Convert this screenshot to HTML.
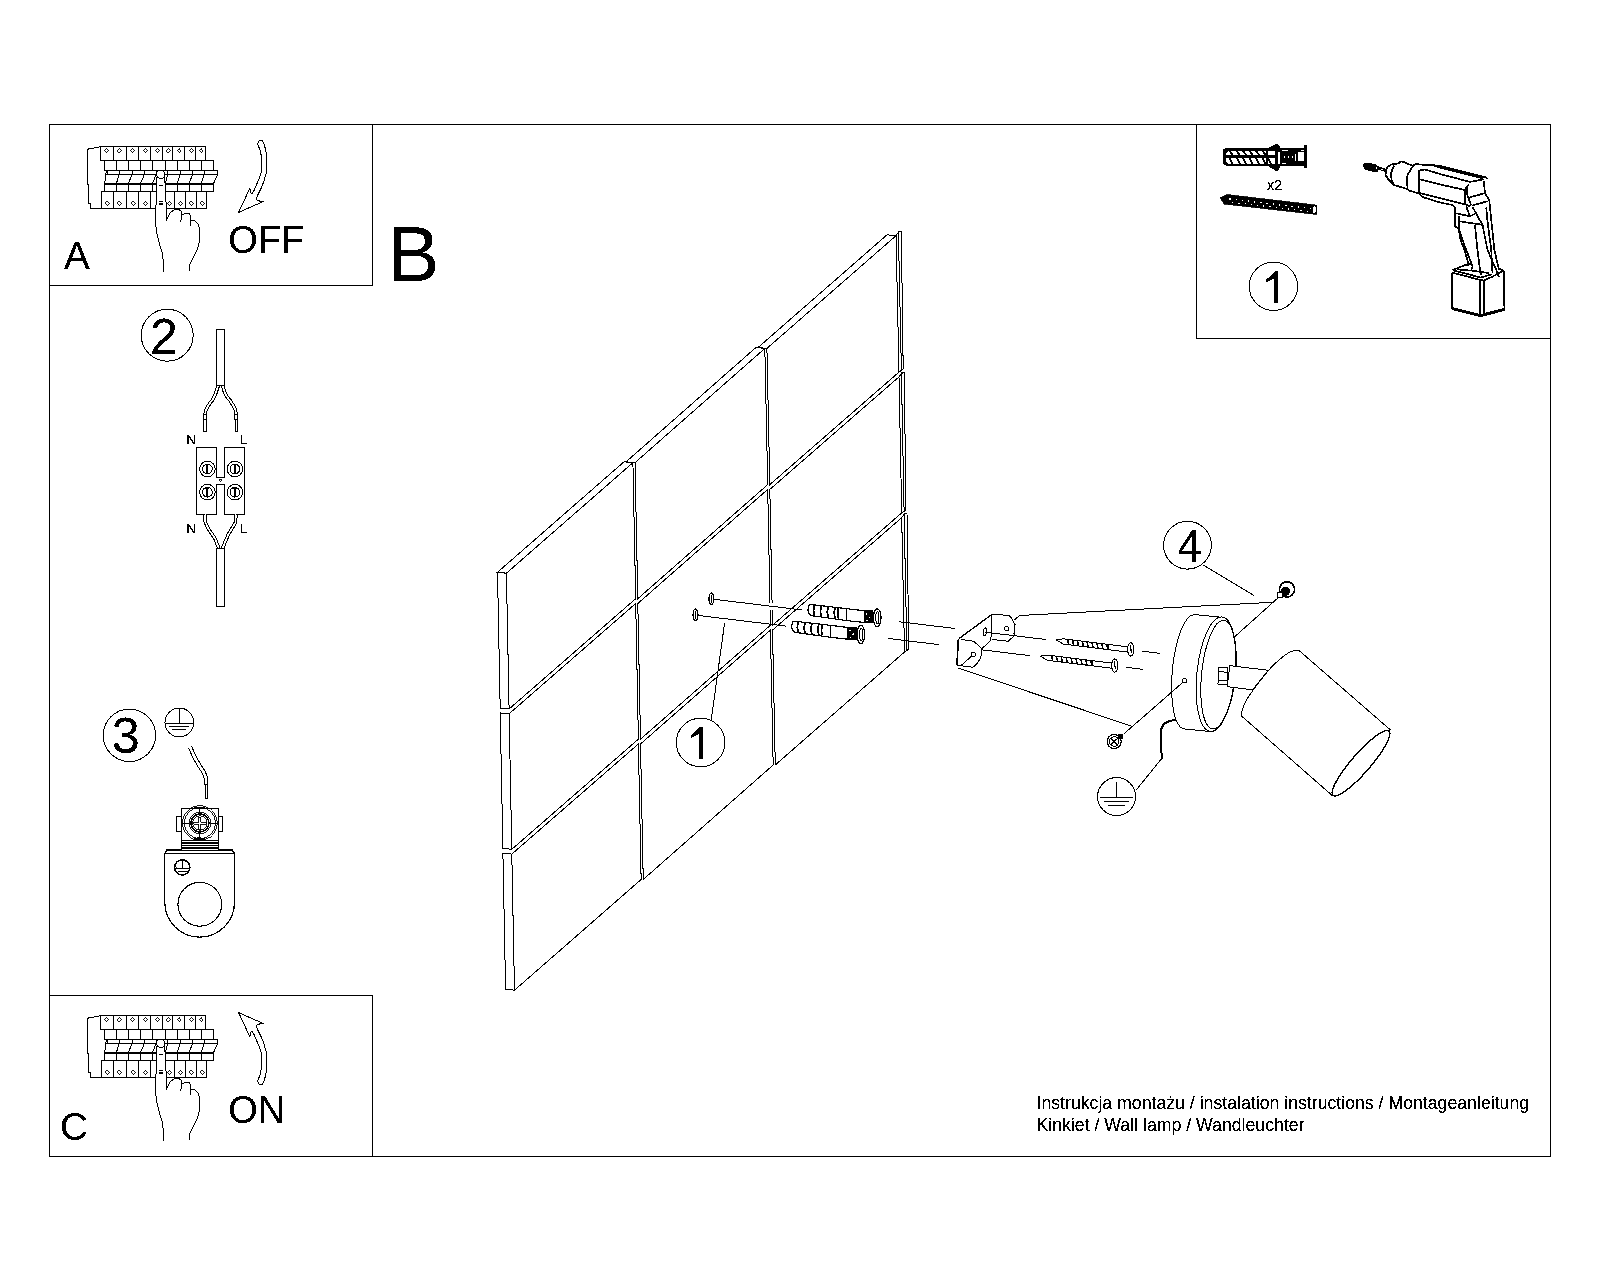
<!DOCTYPE html>
<html><head><meta charset="utf-8"><style>
html,body{margin:0;padding:0;background:#fff;width:1600px;height:1280px;overflow:hidden}
svg{display:block;will-change:transform}
text{font-family:"Liberation Sans",sans-serif}
</style></head><body>
<svg width="1600" height="1280" viewBox="0 0 1600 1280" fill="none" stroke="#000" stroke-linecap="butt" stroke-linejoin="miter" shape-rendering="crispEdges">
<defs><filter id="th" x="-5%" y="-20%" width="110%" height="140%"><feComponentTransfer><feFuncA type="discrete" tableValues="0 0 1 1 1"/></feComponentTransfer></filter></defs>
<rect x="49.5" y="124.5" width="1501" height="1032" stroke-width="1"/>
<polyline points="49.00,285.50 372.50,285.50 372.50,124.00" stroke-width="1" />
<polyline points="49.00,995.50 372.50,995.50 372.50,1157.00" stroke-width="1" />
<polyline points="1196.50,124.00 1196.50,338.50 1551.00,338.50" stroke-width="1" />
<text x="64.00" y="269.00" font-size="38.5" stroke="none" fill="#000" filter="url(#th)" >A</text>
<text x="228.20" y="253.00" font-size="38" stroke="none" fill="#000" filter="url(#th)" >OFF</text>
<text x="387.60" y="281.00" font-size="78" stroke="none" fill="#000" filter="url(#th)" >B</text>
<text x="60.00" y="1139.50" font-size="38.5" stroke="none" fill="#000" filter="url(#th)" >C</text>
<text x="228.20" y="1123.00" font-size="38" stroke="none" fill="#000" filter="url(#th)" >ON</text>
<g id="brk"><polyline points="100.30,146.50 98.10,147.20 87.50,149.20 87.50,184.00 88.80,184.00 88.80,203.40 90.30,203.40 90.30,208.50 206.60,208.50" stroke-width="1" fill="none"/><polygon points="100.50,146.50 205.70,146.50 205.70,160.50 100.50,160.50" stroke-width="1" fill="none"/><line x1="113.40" y1="146.50" x2="113.40" y2="160.50" stroke-width="1"/><line x1="126.30" y1="146.50" x2="126.30" y2="160.50" stroke-width="1"/><line x1="138.40" y1="146.50" x2="138.40" y2="160.50" stroke-width="1"/><line x1="150.40" y1="146.50" x2="150.40" y2="160.50" stroke-width="1"/><line x1="162.40" y1="146.50" x2="162.40" y2="160.50" stroke-width="1"/><line x1="172.50" y1="146.50" x2="172.50" y2="160.50" stroke-width="1"/><line x1="184.50" y1="146.50" x2="184.50" y2="160.50" stroke-width="1"/><line x1="195.40" y1="146.50" x2="195.40" y2="160.50" stroke-width="1"/><polygon points="106.40,148.50 108.60,150.70 106.40,152.90 104.20,150.70" stroke-width="0.9" fill="none"/><polygon points="119.30,148.50 121.50,150.70 119.30,152.90 117.10,150.70" stroke-width="0.9" fill="none"/><polygon points="132.40,148.50 134.60,150.70 132.40,152.90 130.20,150.70" stroke-width="0.9" fill="none"/><polygon points="145.40,148.50 147.60,150.70 145.40,152.90 143.20,150.70" stroke-width="0.9" fill="none"/><polygon points="157.40,148.50 159.60,150.70 157.40,152.90 155.20,150.70" stroke-width="0.9" fill="none"/><polygon points="168.30,148.50 170.50,150.70 168.30,152.90 166.10,150.70" stroke-width="0.9" fill="none"/><polygon points="179.50,148.50 181.70,150.70 179.50,152.90 177.30,150.70" stroke-width="0.9" fill="none"/><polygon points="191.60,148.50 193.80,150.70 191.60,152.90 189.40,150.70" stroke-width="0.9" fill="none"/><polygon points="201.50,148.50 203.70,150.70 201.50,152.90 199.30,150.70" stroke-width="0.9" fill="none"/><polygon points="104.70,160.50 213.60,160.50 213.60,170.30 104.70,170.30" stroke-width="1" fill="none"/><line x1="116.50" y1="160.50" x2="116.50" y2="170.30" stroke-width="1"/><line x1="128.50" y1="160.50" x2="128.50" y2="170.30" stroke-width="1"/><line x1="140.60" y1="160.50" x2="140.60" y2="170.30" stroke-width="1"/><line x1="152.50" y1="160.50" x2="152.50" y2="170.30" stroke-width="1"/><line x1="165.30" y1="160.50" x2="165.30" y2="170.30" stroke-width="1"/><line x1="177.30" y1="160.50" x2="177.30" y2="170.30" stroke-width="1"/><line x1="189.30" y1="160.50" x2="189.30" y2="170.30" stroke-width="1"/><line x1="201.40" y1="160.50" x2="201.40" y2="170.30" stroke-width="1"/><polyline points="104.70,183.30 106.30,170.50 217.50,170.50 217.50,175.00 213.60,183.30" stroke-width="1" fill="none"/><line x1="106.00" y1="174.20" x2="217.50" y2="174.20" stroke-width="1"/><line x1="107.30" y1="170.50" x2="107.30" y2="174.20" stroke-width="1"/><line x1="119.10" y1="170.50" x2="119.10" y2="174.20" stroke-width="1"/><line x1="132.20" y1="170.50" x2="132.20" y2="174.20" stroke-width="1"/><line x1="144.50" y1="170.50" x2="144.50" y2="174.20" stroke-width="1"/><line x1="156.70" y1="170.50" x2="156.70" y2="174.20" stroke-width="1"/><line x1="167.70" y1="170.50" x2="167.70" y2="174.20" stroke-width="1"/><line x1="180.40" y1="170.50" x2="180.40" y2="174.20" stroke-width="1"/><line x1="192.60" y1="170.50" x2="192.60" y2="174.20" stroke-width="1"/><line x1="204.40" y1="170.50" x2="204.40" y2="174.20" stroke-width="1"/><line x1="116.50" y1="183.30" x2="119.10" y2="174.20" stroke-width="1"/><line x1="128.50" y1="183.30" x2="132.20" y2="174.20" stroke-width="1"/><line x1="140.60" y1="183.30" x2="144.50" y2="174.20" stroke-width="1"/><line x1="152.50" y1="183.30" x2="156.30" y2="174.20" stroke-width="1"/><line x1="165.30" y1="183.30" x2="167.70" y2="174.20" stroke-width="1"/><line x1="177.30" y1="183.30" x2="180.40" y2="174.20" stroke-width="1"/><line x1="189.30" y1="183.30" x2="192.60" y2="174.20" stroke-width="1"/><line x1="201.40" y1="183.30" x2="204.40" y2="174.20" stroke-width="1"/><line x1="104.70" y1="183.50" x2="213.60" y2="183.50" stroke-width="2"/><polygon points="104.70,183.50 213.60,183.50 213.60,191.30 104.70,191.30" stroke-width="1" fill="none"/><line x1="116.50" y1="183.50" x2="116.50" y2="191.30" stroke-width="1"/><line x1="128.50" y1="183.50" x2="128.50" y2="191.30" stroke-width="1"/><line x1="140.60" y1="183.50" x2="140.60" y2="191.30" stroke-width="1"/><line x1="152.50" y1="183.50" x2="152.50" y2="191.30" stroke-width="1"/><line x1="165.30" y1="183.50" x2="165.30" y2="191.30" stroke-width="1"/><line x1="177.30" y1="183.50" x2="177.30" y2="191.30" stroke-width="1"/><line x1="189.30" y1="183.50" x2="189.30" y2="191.30" stroke-width="1"/><line x1="201.40" y1="183.50" x2="201.40" y2="191.30" stroke-width="1"/><polygon points="101.80,191.30 206.60,191.30 206.60,208.50 101.80,208.50" stroke-width="1" fill="none"/><line x1="113.40" y1="191.30" x2="113.40" y2="208.50" stroke-width="1"/><line x1="126.30" y1="191.30" x2="126.30" y2="208.50" stroke-width="1"/><line x1="138.40" y1="191.30" x2="138.40" y2="208.50" stroke-width="1"/><line x1="150.40" y1="191.30" x2="150.40" y2="208.50" stroke-width="1"/><line x1="162.40" y1="191.30" x2="162.40" y2="208.50" stroke-width="1"/><line x1="174.20" y1="191.30" x2="174.20" y2="208.50" stroke-width="1"/><line x1="185.20" y1="191.30" x2="185.20" y2="208.50" stroke-width="1"/><line x1="196.50" y1="191.30" x2="196.50" y2="208.50" stroke-width="1"/><polygon points="107.30,201.20 109.50,203.40 107.30,205.60 105.10,203.40" stroke-width="0.9" fill="none"/><polygon points="119.30,201.20 121.50,203.40 119.30,205.60 117.10,203.40" stroke-width="0.9" fill="none"/><polygon points="133.30,201.20 135.50,203.40 133.30,205.60 131.10,203.40" stroke-width="0.9" fill="none"/><polygon points="145.40,201.20 147.60,203.40 145.40,205.60 143.20,203.40" stroke-width="0.9" fill="none"/><polygon points="169.40,201.20 171.60,203.40 169.40,205.60 167.20,203.40" stroke-width="0.9" fill="none"/><polygon points="180.40,201.20 182.60,203.40 180.40,205.60 178.20,203.40" stroke-width="0.9" fill="none"/><polygon points="191.30,201.20 193.50,203.40 191.30,205.60 189.10,203.40" stroke-width="0.9" fill="none"/><polygon points="202.20,201.20 204.40,203.40 202.20,205.60 200.00,203.40" stroke-width="0.9" fill="none"/><polygon points="156.60,177.00 156.20,200.00 155.50,221.40 156.50,232.00 159.50,244.00 162.50,254.00 163.30,262.00 163.50,271.70 190.00,271.70 190.00,264.00 193.00,258.00 197.50,249.00 199.70,240.00 199.70,228.00 198.60,224.70 195.00,221.00 191.00,220.30 190.50,216.00 188.80,213.20 186.00,213.00 182.70,214.90 181.70,211.60 178.00,209.00 174.50,209.40 170.00,213.00 166.90,219.20 164.70,177.00" stroke-width="0" fill="#fff"/><polyline points="156.60,177.00 156.20,200.00 155.50,221.40 156.50,232.00 159.50,244.00 162.50,254.00 163.30,262.00 163.60,272.00" stroke-width="1" fill="none"/><polyline points="164.70,177.00 166.90,219.20 170.00,213.00 174.50,209.40 178.00,209.00 181.70,211.60 180.80,222.50" stroke-width="1" fill="none"/><polyline points="182.50,214.90 186.00,213.00 188.80,213.20 190.50,216.00 191.00,225.80" stroke-width="1" fill="none"/><polyline points="191.00,220.30 195.00,221.00 198.60,224.70 199.70,232.00 199.70,240.00 197.50,249.00 193.00,258.00 190.00,264.00 189.90,271.00" stroke-width="1" fill="none"/><circle cx="160.7" cy="174.4" r="4.1" stroke-width="1" fill="#fff"/><line x1="159.00" y1="186.00" x2="162.50" y2="185.30" stroke-width="1.2"/><line x1="158.50" y1="201.50" x2="163.00" y2="201.50" stroke-width="1"/><line x1="158.50" y1="204.00" x2="163.00" y2="204.00" stroke-width="1.2"/></g>
<use href="#brk" transform="translate(0,869)"/>
<polygon points="257.56,143.63 259.22,140.64 261.87,140.31 263.86,143.63 265.86,150.27 266.52,156.91 266.52,172.18 265.19,176.17 263.86,181.48 261.21,188.12 258.55,193.43 255.90,199.08 257.89,200.41 260.54,201.40 263.53,201.40 238.63,212.36 249.92,188.12 250.25,191.44 251.91,194.10 253.90,190.78 257.89,181.48 260.54,174.84 261.54,170.86 261.21,155.58 260.21,150.27 258.55,146.29" stroke-width="1" fill="none" />
<polygon points="257.56,1081.37 259.22,1084.36 261.87,1084.69 263.86,1081.37 265.86,1074.73 266.52,1068.09 266.52,1052.82 265.19,1048.83 263.86,1043.52 261.21,1036.88 258.55,1031.57 255.90,1025.92 257.89,1024.59 260.54,1023.60 263.53,1023.60 238.63,1012.64 249.92,1036.88 250.25,1033.56 251.91,1030.90 253.90,1034.22 257.89,1043.52 260.54,1050.16 261.54,1054.14 261.21,1069.42 260.21,1074.73 258.55,1078.71" stroke-width="1" fill="none" />
<circle cx="167.20" cy="335.20" r="26.00" stroke-width="1" fill="none" />
<text x="149.90" y="354.00" font-size="50" stroke="none" fill="#000" filter="url(#th)" >2</text>
<circle cx="129.40" cy="735.30" r="26.20" stroke-width="1" fill="none" />
<text x="111.85" y="753.30" font-size="50.3" stroke="none" fill="#000" filter="url(#th)" >3</text>
<circle cx="700.60" cy="742.50" r="24.30" stroke-width="1" fill="none" />
<polygon points="700.00,726.90 702.90,726.90 702.90,758.75 699.00,758.75 699.00,734.10 691.00,737.80 691.00,735.30 697.00,729.50" stroke-width="0" fill="#000" />
<circle cx="1273.40" cy="286.30" r="24.20" stroke-width="1" fill="none" />
<polygon points="1275.15,271.40 1278.00,271.40 1278.00,302.70 1274.17,302.70 1274.17,278.48 1266.31,282.11 1266.31,279.65 1272.20,273.96" stroke-width="0" fill="#000" />
<circle cx="1187.50" cy="545.20" r="23.90" stroke-width="1" fill="none" />
<path d="M1192.1,530 L1195.9,530 L1195.9,550.5 L1200.8,550.5 L1200.8,553.7 L1195.9,553.7 L1195.9,561.7 L1192.1,561.7 L1192.1,553.7 L1179,553.7 L1179,550.4 Z M1192.1,535.9 L1192.1,550.5 L1182.3,550.5 Z" stroke-width="0" fill="#000" fill-rule="evenodd" stroke="none"/>
<rect x="216.5" y="329.5" width="8" height="56" stroke-width="1"/>
<path d="M218.20,385.80 L216.80,390.00 L215.30,394.50 L212.80,399.50 L209.70,403.50 L207.20,407.50 L205.60,411.00 L205.10,415.00" stroke-width="3.6" stroke-linejoin="round"/>
<path d="M218.20,385.80 L216.80,390.00 L215.30,394.50 L212.80,399.50 L209.70,403.50 L207.20,407.50 L205.60,411.00 L205.10,415.00" stroke="#fff" stroke-width="1.6" stroke-linejoin="round"/>
<path d="M222.60,385.80 L224.00,390.50 L226.50,396.00 L230.40,401.00 L233.60,406.00 L235.50,410.50 L236.10,414.50 L236.30,419.00" stroke-width="3.6" stroke-linejoin="round"/>
<path d="M222.60,385.80 L224.00,390.50 L226.50,396.00 L230.40,401.00 L233.60,406.00 L235.50,410.50 L236.10,414.50 L236.30,419.00" stroke="#fff" stroke-width="1.6" stroke-linejoin="round"/>
<rect x="203.5" y="414.5" width="3" height="5" stroke-width="1"/>
<rect x="203.8" y="419.5" width="2.2" height="12" stroke-width="1"/>
<rect x="234.8" y="414.5" width="3" height="5" stroke-width="1"/>
<rect x="235.5" y="419.5" width="2.2" height="12" stroke-width="1"/>
<text x="186.30" y="443.70" font-size="13.6" stroke="none" fill="#000" filter="url(#th)" >N</text>
<text x="239.80" y="443.70" font-size="13.6" stroke="none" fill="#000" filter="url(#th)" >L</text>
<polygon points="196.50,447.50 216.50,447.50 216.50,477.50 224.50,477.50 224.50,447.50 244.50,447.50 244.50,514.50 224.50,514.50 224.50,484.50 216.50,484.50 216.50,514.50 196.50,514.50" stroke-width="1" fill="#fff" />
<circle cx="220.50" cy="480.30" r="1.30" stroke-width="0.9" fill="none" />
<circle cx="207.40" cy="469.00" r="7.80" stroke-width="1" fill="none" />
<circle cx="207.40" cy="469.00" r="4.90" stroke-width="1" fill="none" />
<rect x="206.00" y="464.60" width="2" height="8.8" fill="#000" stroke="none"/>
<rect x="205.00" y="464.40" width="4" height="1" fill="#000" stroke="none"/>
<circle cx="234.90" cy="469.00" r="7.80" stroke-width="1" fill="none" />
<circle cx="234.90" cy="469.00" r="4.90" stroke-width="1" fill="none" />
<rect x="234.00" y="464.60" width="2" height="8.8" fill="#000" stroke="none"/>
<rect x="233.00" y="464.40" width="4" height="1" fill="#000" stroke="none"/>
<circle cx="207.40" cy="492.20" r="7.80" stroke-width="1" fill="none" />
<circle cx="207.40" cy="492.20" r="4.90" stroke-width="1" fill="none" />
<rect x="206.00" y="487.80" width="2" height="8.8" fill="#000" stroke="none"/>
<rect x="205.00" y="487.60" width="4" height="1" fill="#000" stroke="none"/>
<circle cx="234.90" cy="492.20" r="7.80" stroke-width="1" fill="none" />
<circle cx="234.90" cy="492.20" r="4.90" stroke-width="1" fill="none" />
<rect x="234.00" y="487.80" width="2" height="8.8" fill="#000" stroke="none"/>
<rect x="233.00" y="487.60" width="4" height="1" fill="#000" stroke="none"/>
<path d="M204.75,514.50 L205.30,522.00 L208.60,529.20 L215.00,538.50 L218.90,548.50" stroke-width="3.6" stroke-linejoin="round"/>
<path d="M204.75,514.50 L205.30,522.00 L208.60,529.20 L215.00,538.50 L218.90,548.50" stroke="#fff" stroke-width="1.6" stroke-linejoin="round"/>
<path d="M236.00,514.50 L235.30,523.00 L228.30,534.50 L222.40,548.50" stroke-width="3.6" stroke-linejoin="round"/>
<path d="M236.00,514.50 L235.30,523.00 L228.30,534.50 L222.40,548.50" stroke="#fff" stroke-width="1.6" stroke-linejoin="round"/>
<rect x="216.5" y="548.5" width="7.5" height="57.5" stroke-width="1"/>
<text x="186.30" y="532.80" font-size="13.6" stroke="none" fill="#000" filter="url(#th)" >N</text>
<text x="239.60" y="532.80" font-size="13.6" stroke="none" fill="#000" filter="url(#th)" >L</text>
<circle cx="179.40" cy="722.50" r="14.40" stroke-width="1" fill="none" />
<line x1="179.40" y1="708.90" x2="179.40" y2="723.50" stroke-width="1" />
<line x1="166.00" y1="723.50" x2="193.00" y2="723.50" stroke-width="1" />
<line x1="168.80" y1="726.60" x2="188.60" y2="726.60" stroke-width="1" />
<line x1="172.00" y1="729.70" x2="185.50" y2="729.70" stroke-width="1" />
<path d="M190.20,747.00 L192.60,753.00 L195.50,759.00 L199.60,766.00 L203.60,772.00 L205.60,777.00 L206.20,781.00 L206.20,784.50" stroke-width="4.4" stroke-linejoin="round"/>
<path d="M190.20,747.00 L192.60,753.00 L195.50,759.00 L199.60,766.00 L203.60,772.00 L205.60,777.00 L206.20,781.00 L206.20,784.50" stroke="#fff" stroke-width="2.4" stroke-linejoin="round"/>
<rect x="205.2" y="784.3" width="2.2" height="14.3" stroke-width="1"/>
<path d="M164.8,855 L164.8,902.3 A34.85,34.85 0 0 0 234.5,902.3 L234.5,855 Q234.5,850 229.5,850 L169.8,850 Q164.8,850 164.8,855 Z" stroke-width="1.2" fill="#fff" />
<line x1="166.00" y1="850.40" x2="233.00" y2="850.40" stroke-width="2" />
<line x1="165.50" y1="853.50" x2="233.50" y2="853.50" stroke-width="1" />
<circle cx="199.80" cy="904.30" r="21.90" stroke-width="1.1" fill="none" />
<circle cx="182.20" cy="867.40" r="7.60" stroke-width="1.6" fill="none" />
<line x1="182.20" y1="861.00" x2="182.20" y2="868.00" stroke-width="1" />
<line x1="176.00" y1="868.20" x2="188.50" y2="868.20" stroke-width="1" />
<line x1="178.00" y1="871.00" x2="186.50" y2="871.00" stroke-width="1" />
<polygon points="176.00,867.20 174.50,868.20 176.00,869.20" stroke-width="0.8" fill="#000" />
<polygon points="181.00,874.50 182.20,876.30 183.40,874.50" stroke-width="0.8" fill="#000" />
<rect x="181.5" y="808.5" width="37" height="41.5" stroke-width="1" fill="#fff"/>
<rect x="176.3" y="816.5" width="5.2" height="15" stroke-width="1" fill="#fff"/>
<rect x="218.5" y="816.5" width="4.2" height="15" stroke-width="1" fill="#fff"/>
<path d="M193,808.5 Q199.9,805.5 206.8,808.5" stroke-width="1" fill="none" />
<circle cx="199.90" cy="823.00" r="17.30" stroke-width="0.9" fill="none" />
<circle cx="199.90" cy="823.00" r="15.70" stroke-width="0.9" fill="none" />
<circle cx="199.90" cy="823.00" r="10.80" stroke-width="0.9" fill="none" />
<circle cx="199.90" cy="823.00" r="9.00" stroke-width="1.6" fill="none" />
<circle cx="199.90" cy="823.00" r="7.20" stroke-width="0.9" fill="none" />
<line x1="199.90" y1="806.50" x2="199.90" y2="813.00" stroke-width="1" />
<line x1="199.90" y1="833.00" x2="199.90" y2="839.50" stroke-width="1" />
<line x1="182.00" y1="823.00" x2="189.00" y2="823.00" stroke-width="1" />
<line x1="211.00" y1="823.00" x2="218.00" y2="823.00" stroke-width="1" />
<polygon points="198.90,817.00 200.90,817.00 200.90,822.00 206.00,822.00 206.00,824.00 200.90,824.00 200.90,829.50 198.90,829.50 198.90,824.00 193.80,824.00 193.80,822.00 198.90,822.00" stroke-width="0.9" fill="#fff" />
<line x1="181.50" y1="840.40" x2="218.50" y2="840.40" stroke-width="1" />
<line x1="181.50" y1="843.20" x2="218.50" y2="843.20" stroke-width="1.6" />
<line x1="181.50" y1="845.60" x2="218.50" y2="845.60" stroke-width="1" />
<line x1="181.50" y1="848.00" x2="218.50" y2="848.00" stroke-width="1.6" />
<ellipse cx="0" cy="0" rx="6.00" ry="1.80" transform="translate(199.40,839.20) rotate(0.00)" stroke-width="0" fill="#000" />
<polygon points="506.40,573.20 632.91,462.70 635.70,598.70 509.10,709.00" stroke-width="1" fill="none" />
<polyline points="506.40,573.20 497.50,572.30 500.20,708.10 509.10,709.00" stroke-width="1" />
<polyline points="506.40,573.20 497.50,572.30 624.01,461.80 632.91,462.70" stroke-width="1" />
<polygon points="635.01,462.70 764.82,348.42 767.72,484.62 637.80,598.70" stroke-width="1" fill="none" />
<polyline points="635.01,462.70 626.11,461.80 755.92,347.52 764.82,348.42" stroke-width="1" />
<polygon points="766.92,348.42 896.00,235.70 899.00,372.10 769.82,484.62" stroke-width="1" fill="none" />
<polyline points="766.92,348.42 758.02,347.52 887.10,234.80 896.00,235.70" stroke-width="1" />
<polyline points="896.00,235.70 898.40,232.10 901.40,370.50 899.00,372.10" stroke-width="1" />
<polyline points="898.40,232.10 901.30,231.30 903.20,369.10 901.40,370.50" stroke-width="1" />
<polygon points="509.10,713.80 635.70,603.50 638.40,739.16 511.80,849.30" stroke-width="1" fill="none" />
<polyline points="509.10,713.80 500.20,712.90 502.90,848.40 511.80,849.30" stroke-width="1" />
<polygon points="637.80,603.50 767.72,489.42 770.42,625.26 640.50,739.16" stroke-width="1" fill="none" />
<polygon points="769.82,489.42 899.00,376.90 901.70,512.90 772.52,625.26" stroke-width="1" fill="none" />
<polyline points="899.00,376.90 901.40,373.30 904.10,511.30 901.70,512.90" stroke-width="1" />
<polyline points="901.40,373.30 904.30,372.50 905.90,509.90 904.10,511.30" stroke-width="1" />
<polygon points="511.80,854.10 638.40,743.96 641.14,879.47 514.50,990.20" stroke-width="1" fill="none" />
<polyline points="511.80,854.10 502.90,853.20 505.60,989.30 514.50,990.20" stroke-width="1" />
<polygon points="640.50,743.96 770.42,630.06 773.19,764.96 643.24,879.47" stroke-width="1" fill="none" />
<polygon points="772.52,630.06 901.70,517.70 904.50,652.00 775.29,764.96" stroke-width="1" fill="none" />
<polyline points="901.70,517.70 904.10,514.10 906.90,650.40 904.50,652.00" stroke-width="1" />
<polyline points="904.10,514.10 907.00,513.30 908.70,649.00 906.90,650.40" stroke-width="1" />
<rect x="768" y="603" width="5" height="6.8" fill="#fff" stroke="none"/>
<line x1="713.90" y1="599.28" x2="802.40" y2="610.00" stroke-width="1" />
<line x1="899.10" y1="621.73" x2="955.00" y2="628.50" stroke-width="1" />
<line x1="988.50" y1="632.56" x2="1045.80" y2="639.51" stroke-width="1" />
<line x1="1142.10" y1="651.18" x2="1160.00" y2="653.35" stroke-width="1" />
<line x1="697.80" y1="615.39" x2="785.90" y2="626.07" stroke-width="1" />
<line x1="888.25" y1="638.47" x2="938.90" y2="644.61" stroke-width="1" />
<line x1="981.90" y1="649.82" x2="1030.00" y2="655.65" stroke-width="1" />
<line x1="1126.30" y1="667.33" x2="1142.90" y2="669.34" stroke-width="1" />
<ellipse cx="0" cy="0" rx="2.40" ry="5.80" transform="translate(711.40,598.80) rotate(0.00)" stroke-width="1.3" fill="#fff" />
<line x1="711.40" y1="594.80" x2="711.40" y2="602.80" stroke-width="1.2" />
<ellipse cx="0" cy="0" rx="2.40" ry="5.80" transform="translate(695.50,614.90) rotate(0.00)" stroke-width="1.3" fill="#fff" />
<line x1="695.50" y1="610.90" x2="695.50" y2="618.90" stroke-width="1.2" />
<line x1="724.60" y1="623.00" x2="711.25" y2="720.00" stroke-width="1" />
<g id="dowel"><path d="M810,604.4 L847.5,608.75 L865,610.9 L865,622.6 L846.9,620.6 L811.25,615.6 Q807.8,614 808,609.5 Q808.5,605 810,604.4 Z" stroke-width="1.2" fill="#fff"/><path d="M814.40,605.20 Q812.80,610.70 814.40,616.00" stroke-width="1.8"/><path d="M821.25,606.00 Q819.65,611.50 821.25,616.80" stroke-width="1.8"/><path d="M828.10,606.80 Q826.50,612.30 828.10,617.60" stroke-width="1.8"/><path d="M835.00,607.50 Q833.40,613.00 835.00,618.30" stroke-width="1.8"/><path d="M838.50,607.90 Q836.90,613.40 838.50,618.70" stroke-width="1.8"/><line x1="846.7" y1="608.7" x2="846.4" y2="620.5" stroke-width="1"/><rect x="863.6" y="610.4" width="9.8" height="12.6" fill="#000" stroke="none"/><circle cx="866.5" cy="614" r="0.8" fill="#fff" stroke="none"/><circle cx="869.5" cy="617.5" r="0.8" fill="#fff" stroke="none"/><circle cx="867" cy="620.5" r="0.7" fill="#fff" stroke="none"/><ellipse cx="877.2" cy="617.8" rx="3.8" ry="9.1" stroke-width="1.3" fill="#fff"/><ellipse cx="877.4" cy="617.8" rx="1.6" ry="6" stroke-width="1"/></g>
<use href="#dowel" transform="translate(-16.3,16.7)"/>
<polygon points="991.90,614.40 958.75,638.75 956.90,665.30 973.10,667.20 981.90,648.75 990.90,640.00" stroke-width="0" fill="#fff" />
<path d="M991.9,614.4 L1008.75,615.3 Q1016.5,621 1014.4,635.6 L1008.1,641.25 L991.9,639.4" stroke-width="1" fill="none" />
<line x1="991.90" y1="614.40" x2="990.90" y2="640.00" stroke-width="1" />
<line x1="991.90" y1="614.40" x2="958.75" y2="638.75" stroke-width="1.3" />
<path d="M958.75,638.75 L957.2,665.3 L973.1,667.2 Q982.5,660 981.9,648.75 L973.75,641.25 L960.6,639.4" stroke-width="1" fill="none" />
<line x1="958.20" y1="640.00" x2="957.00" y2="665.00" stroke-width="1.6" />
<line x1="1014.80" y1="624.00" x2="1014.20" y2="634.00" stroke-width="1.5" />
<line x1="990.90" y1="640.00" x2="981.90" y2="648.75" stroke-width="1" />
<circle cx="1006.60" cy="628.75" r="2.10" stroke-width="1" fill="none" />
<circle cx="973.40" cy="654.40" r="2.20" stroke-width="1" fill="none" />
<line x1="961.00" y1="665.60" x2="972.30" y2="655.50" stroke-width="1" />
<ellipse cx="0" cy="0" rx="1.70" ry="3.90" transform="translate(985.00,631.90) rotate(10.00)" stroke-width="1.1" fill="none" />
<line x1="984.50" y1="632.00" x2="990.90" y2="632.30" stroke-width="1" />
<polyline points="1014.40,620.00 1019.40,615.50 1272.30,602.30" stroke-width="1" />
<line x1="958.10" y1="668.10" x2="1132.00" y2="726.25" stroke-width="1" />
<line x1="1279.90" y1="596.20" x2="1234.40" y2="637.00" stroke-width="1" />
<line x1="1203.30" y1="565.00" x2="1253.90" y2="595.40" stroke-width="1" />
<g id="bscrew"><polygon points="1056.4,640 1063.3,638.8 1108.8,644.5 1127.5,646.9 1127.5,652 1108.8,649.7 1063.3,644.1" stroke-width="1" fill="#fff"/><path d="M1067.50,639.30 L1068.70,644.90" stroke-width="1.6"/><path d="M1072.40,639.91 L1073.60,645.51" stroke-width="1.6"/><path d="M1077.30,640.52 L1078.50,646.12" stroke-width="1.6"/><path d="M1082.20,641.13 L1083.40,646.73" stroke-width="1.6"/><path d="M1087.10,641.74 L1088.30,647.34" stroke-width="1.6"/><path d="M1092.00,642.35 L1093.20,647.95" stroke-width="1.6"/><path d="M1096.90,642.96 L1098.10,648.56" stroke-width="1.6"/><path d="M1101.80,643.57 L1103.00,649.17" stroke-width="1.6"/><path d="M1106.70,644.18 L1107.90,649.78" stroke-width="1.6"/><line x1="1108.8" y1="644.5" x2="1108.8" y2="649.7" stroke-width="1"/><ellipse cx="1130.7" cy="649.4" rx="3" ry="6.6" stroke-width="1.2" fill="#fff"/><path d="M1130.2,645 L1131.5,653" stroke-width="1.2"/></g>
<use href="#bscrew" transform="translate(-16,16.2)"/>
<ellipse cx="0" cy="0" rx="17.00" ry="57.40" transform="translate(1189.25,671.75) rotate(5.25)" stroke-width="1" fill="#fff" />
<polygon points="1194.50,614.60 1225.00,617.60 1213.30,731.80 1184.00,728.90" stroke-width="0" fill="#fff" />
<line x1="1194.50" y1="614.60" x2="1225.00" y2="617.60" stroke-width="1" />
<line x1="1184.00" y1="728.90" x2="1213.30" y2="731.80" stroke-width="1" />
<ellipse cx="0" cy="0" rx="19.30" ry="57.50" transform="translate(1216.20,674.20) rotate(5.85)" stroke-width="1" fill="#fff" />
<ellipse cx="0" cy="0" rx="16.70" ry="54.60" transform="translate(1218.30,674.60) rotate(5.85)" stroke-width="1" fill="none" />
<line x1="1124.00" y1="733.75" x2="1182.80" y2="682.40" stroke-width="1" />
<circle cx="1184.60" cy="680.80" r="2.20" stroke-width="1" fill="#fff" />
<polygon points="1229.70,665.60 1268.30,670.30 1252.50,689.80 1227.30,686.70" stroke-width="1" fill="#fff" />
<polygon points="1218.30,667.00 1227.50,667.80 1227.30,685.00 1218.00,684.00" stroke-width="1" fill="#fff" />
<line x1="1218.30" y1="671.50" x2="1227.50" y2="672.30" stroke-width="1" />
<line x1="1218.00" y1="680.00" x2="1227.30" y2="681.00" stroke-width="1" />
<path d="M1298.9,650.4 L1390.3,729.8 L1332.7,795.9 L1241.25,715.8 Q1241.5,705 1253.9,689.1 Q1262,678 1269.4,669.4 Q1280,658 1289,652.5 Q1294,650 1298.9,650.4 Z" stroke-width="1" fill="#fff" />
<ellipse cx="0" cy="0" rx="42.60" ry="9.40" transform="translate(1361.00,763.20) rotate(-49.00)" stroke-width="1.4" fill="#fff" />
<polyline points="1176.40,720.00 1170.00,720.70 1164.00,723.80 1161.30,729.00 1161.40,746.00 1161.60,758.60" stroke-width="2" />
<line x1="1161.60" y1="758.60" x2="1135.80" y2="790.50" stroke-width="1" />
<circle cx="1116.60" cy="796.60" r="19.00" stroke-width="1" fill="none" />
<line x1="1116.60" y1="782.00" x2="1116.60" y2="797.50" stroke-width="1" />
<line x1="1100.20" y1="797.50" x2="1133.00" y2="797.50" stroke-width="1" />
<line x1="1104.20" y1="801.40" x2="1128.75" y2="801.40" stroke-width="1" />
<line x1="1108.10" y1="805.50" x2="1124.80" y2="805.50" stroke-width="1" />
<circle cx="1114.20" cy="741.50" r="7.00" stroke-width="1.3" fill="#fff" />
<circle cx="1114.20" cy="741.50" r="4.80" stroke-width="1" fill="none" />
<line x1="1111.00" y1="738.50" x2="1117.00" y2="744.50" stroke-width="1" />
<line x1="1111.00" y1="744.50" x2="1116.50" y2="739.00" stroke-width="1" />
<circle cx="1120.50" cy="736.50" r="2.80" stroke-width="0" fill="#000" />
<circle cx="1287.00" cy="589.40" r="7.60" stroke-width="1.6" fill="#fff" />
<circle cx="1285.60" cy="591.20" r="4.60" stroke-width="0" fill="#000" />
<rect x="1277.8" y="592.5" width="4.6" height="4.6" stroke-width="1" fill="#fff"/>
<path d="M1226,148.3 L1267.3,148.3 L1276.9,143.3 L1279.6,146 L1279.6,148.3 L1304.2,148.3 L1304.2,145 L1307,145 L1307,167.8 L1304.2,167.8 L1304.2,165.6 L1279.6,165.6 L1279.6,168.4 L1276.9,171.4 L1267.3,165.6 L1226,165.6 Q1222.6,165 1222.6,161 L1222.6,152.5 Q1222.6,148.6 1226,148.3 Z" stroke-width="0" fill="#000" />
<path d="M1225.5,151.2 L1275.4,151.2 L1275.4,155.2 L1225.5,155.2 Z M1225.5,158.4 L1275.4,158.4 L1275.4,163.6 L1225.5,163.6 Z" fill="#fff" stroke="none"/>
<polygon points="1228.50,150.80 1230.70,150.80 1233.90,155.50 1231.70,155.50" stroke-width="0" fill="#000" />
<polygon points="1235.50,150.80 1237.70,150.80 1240.90,155.50 1238.70,155.50" stroke-width="0" fill="#000" />
<polygon points="1242.00,150.80 1244.20,150.80 1247.40,155.50 1245.20,155.50" stroke-width="0" fill="#000" />
<polygon points="1248.50,150.80 1250.70,150.80 1253.90,155.50 1251.70,155.50" stroke-width="0" fill="#000" />
<polygon points="1255.00,150.80 1257.20,150.80 1260.40,155.50 1258.20,155.50" stroke-width="0" fill="#000" />
<polygon points="1261.50,150.80 1263.70,150.80 1266.90,155.50 1264.70,155.50" stroke-width="0" fill="#000" />
<polygon points="1228.50,158.10 1230.50,158.10 1233.50,164.00 1231.50,164.00" stroke-width="0" fill="#000" />
<polygon points="1236.20,158.10 1238.20,158.10 1241.20,164.00 1239.20,164.00" stroke-width="0" fill="#000" />
<polygon points="1242.00,158.10 1244.00,158.10 1247.00,164.00 1245.00,164.00" stroke-width="0" fill="#000" />
<polygon points="1248.50,158.10 1250.50,158.10 1253.50,164.00 1251.50,164.00" stroke-width="0" fill="#000" />
<polygon points="1255.00,158.10 1257.00,158.10 1260.00,164.00 1258.00,164.00" stroke-width="0" fill="#000" />
<polygon points="1261.50,158.10 1263.50,158.10 1266.50,164.00 1264.50,164.00" stroke-width="0" fill="#000" />
<polygon points="1267.20,158.10 1269.20,158.10 1272.20,164.00 1270.20,164.00" stroke-width="0" fill="#000" />
<rect x="1266" y="150.8" width="1.6" height="13" fill="#000" stroke="none"/>
<path d="M1225.5,151.2 L1228,151.2 L1225.5,153.6 Z M1225.5,163.6 L1228,163.6 L1225.5,161.2 Z" fill="#000" stroke="none"/>
<path d="M1277.8,152.2 L1279.8,152.2 L1279.8,163.75 L1277.8,163.75 Z M1281.9,149.8 L1288.1,149.8 L1288.1,151 L1281.9,151 Z M1281.9,163 L1286,163 L1286,164.1 L1281.9,164.1 Z M1295,153.75 L1296.25,153.75 L1296.25,161.25 L1295,161.25 Z M1297.8,151.9 L1304,151.9 L1304,161 L1297.8,161 Z M1301,149.8 L1304,149.8 L1304,151 L1301,151 Z" fill="#fff" stroke="none"/>
<rect x="1283.80" y="156" width="1.2" height="1.8" fill="#fff" stroke="none"/>
<rect x="1287.80" y="156" width="1.2" height="1.8" fill="#fff" stroke="none"/>
<rect x="1291.90" y="156" width="1.2" height="1.8" fill="#fff" stroke="none"/>
<polygon points="1220.20,197.60 1227.40,194.60 1315.40,205.00 1316.60,205.50 1316.60,214.30 1315.40,214.30 1224.00,204.00" stroke-width="0.8" fill="#000" />
<circle cx="1230.00" cy="199.00" r="0.75" stroke-width="0" fill="#fff" />
<circle cx="1232.80" cy="202.40" r="0.70" stroke-width="0" fill="#fff" />
<circle cx="1236.20" cy="199.73" r="0.75" stroke-width="0" fill="#fff" />
<circle cx="1239.00" cy="203.13" r="0.70" stroke-width="0" fill="#fff" />
<circle cx="1242.40" cy="200.46" r="0.75" stroke-width="0" fill="#fff" />
<circle cx="1245.20" cy="203.86" r="0.70" stroke-width="0" fill="#fff" />
<circle cx="1248.60" cy="201.19" r="0.75" stroke-width="0" fill="#fff" />
<circle cx="1251.40" cy="204.59" r="0.70" stroke-width="0" fill="#fff" />
<circle cx="1254.80" cy="201.91" r="0.75" stroke-width="0" fill="#fff" />
<circle cx="1257.60" cy="205.31" r="0.70" stroke-width="0" fill="#fff" />
<circle cx="1261.00" cy="202.64" r="0.75" stroke-width="0" fill="#fff" />
<circle cx="1263.80" cy="206.04" r="0.70" stroke-width="0" fill="#fff" />
<circle cx="1267.20" cy="203.37" r="0.75" stroke-width="0" fill="#fff" />
<circle cx="1270.00" cy="206.77" r="0.70" stroke-width="0" fill="#fff" />
<circle cx="1273.40" cy="204.10" r="0.75" stroke-width="0" fill="#fff" />
<circle cx="1276.20" cy="207.50" r="0.70" stroke-width="0" fill="#fff" />
<circle cx="1279.60" cy="204.83" r="0.75" stroke-width="0" fill="#fff" />
<circle cx="1282.40" cy="208.23" r="0.70" stroke-width="0" fill="#fff" />
<circle cx="1285.80" cy="205.56" r="0.75" stroke-width="0" fill="#fff" />
<circle cx="1288.60" cy="208.96" r="0.70" stroke-width="0" fill="#fff" />
<circle cx="1292.00" cy="206.28" r="0.75" stroke-width="0" fill="#fff" />
<circle cx="1294.80" cy="209.69" r="0.70" stroke-width="0" fill="#fff" />
<circle cx="1298.20" cy="207.01" r="0.75" stroke-width="0" fill="#fff" />
<circle cx="1301.00" cy="210.41" r="0.70" stroke-width="0" fill="#fff" />
<circle cx="1304.40" cy="207.74" r="0.75" stroke-width="0" fill="#fff" />
<circle cx="1307.20" cy="211.14" r="0.70" stroke-width="0" fill="#fff" />
<circle cx="1310.60" cy="208.47" r="0.75" stroke-width="0" fill="#fff" />
<circle cx="1313.40" cy="211.87" r="0.70" stroke-width="0" fill="#fff" />
<ellipse cx="0" cy="0" rx="1.40" ry="3.60" transform="translate(1314.60,209.60) rotate(0.00)" stroke-width="0" fill="#fff" />
<text x="1267.00" y="189.90" font-size="14.5" stroke="none" fill="#000" filter="url(#th)" >x2</text>
<polygon points="1363.00,166.00 1364.50,163.25 1367.00,163.25 1375.00,164.50 1378.00,166.50 1377.50,171.00 1374.00,171.50 1366.00,169.50" stroke-width="1" fill="#000" />
<circle cx="1376.30" cy="167.90" r="0.90" stroke-width="0" fill="#fff" />
<line x1="1377.00" y1="167.50" x2="1386.00" y2="170.50" stroke-width="3" />
<circle cx="1382.00" cy="169.30" r="0.70" stroke-width="0" fill="#fff" />
<polyline points="1386.00,170.50 1387.00,167.50 1391.00,164.50 1398.00,163.50 1401.00,161.50 1405.00,162.50 1413.00,166.00 1416.00,163.50 1419.00,164.50 1434.00,165.30 1440.00,166.00 1486.25,177.50 1487.00,179.00" stroke-width="1.7" />
<polyline points="1386.00,170.50 1385.50,175.00 1388.50,179.50 1394.00,185.00 1407.00,189.00 1409.00,190.50 1419.00,193.50" stroke-width="1.7" />
<polyline points="1394.00,165.50 1391.00,173.00 1391.50,180.00 1394.00,185.00" stroke-width="1.7" />
<polyline points="1413.00,166.00 1408.00,174.00 1407.00,178.00 1407.50,189.00" stroke-width="1.7" />
<polyline points="1419.00,193.50 1419.00,171.00 1421.00,170.00 1425.00,169.50 1440.00,174.00 1470.00,181.90 1483.75,179.40" stroke-width="1.7" />
<polyline points="1434.00,165.50 1440.00,167.50 1483.00,178.50" stroke-width="1.7" />
<polyline points="1420.00,179.50 1440.00,184.50 1465.00,190.00" stroke-width="1.7" />
<polyline points="1419.00,193.00 1440.00,198.10 1465.00,204.40 1470.00,206.25" stroke-width="1.7" />
<polyline points="1419.50,194.00 1422.50,197.00 1440.00,202.50 1452.50,205.00 1455.00,207.50 1455.00,226.25 1458.75,228.75 1460.60,240.00 1465.00,251.25 1468.10,263.10 1471.25,263.75" stroke-width="1.7" />
<polyline points="1458.75,228.75 1462.50,240.00 1472.50,266.25 1471.25,270.00" stroke-width="1.7" />
<polyline points="1468.75,184.40 1466.25,187.50 1465.00,190.60 1465.00,203.75" stroke-width="1.7" />
<polyline points="1467.50,186.90 1466.90,193.75 1471.25,205.60" stroke-width="1.7" />
<polyline points="1483.75,181.25 1485.00,193.10 1489.40,200.60 1490.00,207.50 1494.40,250.00 1498.75,268.75 1503.75,270.60" stroke-width="1.7" />
<polyline points="1469.40,197.50 1485.00,193.10" stroke-width="1.7" />
<polyline points="1471.90,205.60 1487.50,201.25" stroke-width="1.7" />
<polyline points="1455.00,213.10 1470.00,216.25 1475.00,213.75" stroke-width="1.7" />
<polyline points="1458.75,216.25 1458.75,227.50" stroke-width="1.7" />
<polyline points="1458.75,221.25 1480.60,224.40 1483.75,226.25" stroke-width="1.7" />
<polyline points="1466.25,206.25 1470.00,216.90" stroke-width="1.7" />
<polyline points="1472.50,206.90 1482.50,225.00 1487.50,250.00 1496.25,270.00 1498.75,276.90" stroke-width="1.7" />
<polyline points="1475.00,225.00 1477.50,250.00 1480.00,270.00 1481.25,275.00" stroke-width="1.7" />
<polyline points="1486.25,207.50 1487.50,221.25 1491.25,250.00 1492.50,273.00" stroke-width="1.7" />
<polyline points="1452.50,270.00 1465.60,265.00 1471.25,264.40" stroke-width="1.7" />
<polyline points="1451.90,272.50 1480.60,280.00 1483.75,280.60 1491.90,276.90 1503.75,270.60" stroke-width="1.7" />
<polyline points="1454.40,270.60 1480.60,277.50 1491.90,274.40" stroke-width="1.7" />
<polyline points="1457.50,269.40 1471.25,270.60 1488.75,273.10" stroke-width="1.7" />
<polyline points="1451.90,272.50 1451.90,308.75" stroke-width="1.7" />
<polyline points="1504.00,270.60 1504.40,310.00" stroke-width="1.7" />
<polyline points="1480.00,280.00 1480.00,313.75" stroke-width="1.7" />
<polyline points="1483.75,281.25 1483.75,313.75" stroke-width="1.7" />
<polyline points="1451.90,308.40 1480.60,315.60 1504.40,309.40" stroke-width="3" />
<text x="1036.50" y="1108.60" font-size="17.7" stroke="none" fill="#000" filter="url(#th)" >Instrukcja montażu / instalation instructions / Montageanleitung</text>
<text x="1036.50" y="1131.40" font-size="17.7" stroke="none" fill="#000" filter="url(#th)" >Kinkiet / Wall lamp / Wandleuchter</text>
</svg>
</body></html>
